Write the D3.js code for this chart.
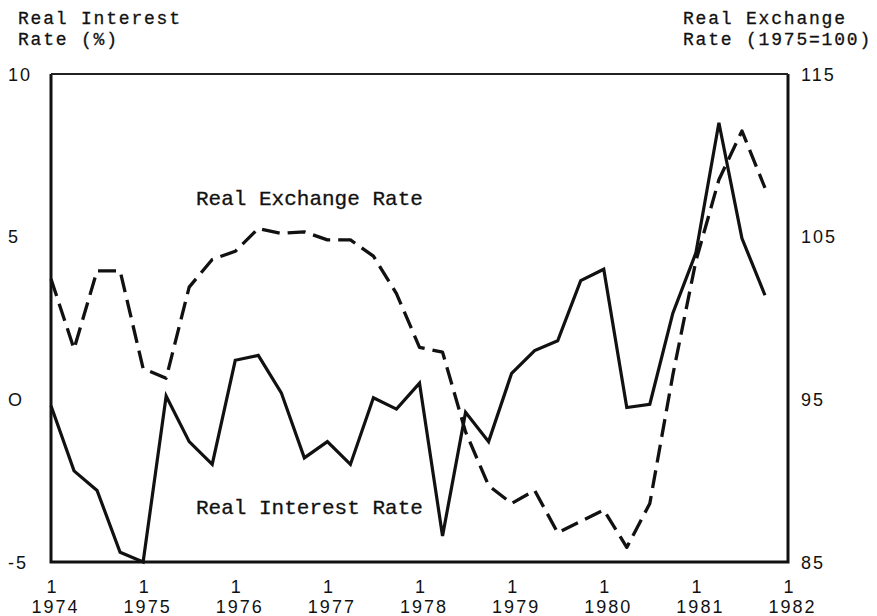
<!DOCTYPE html>
<html>
<head>
<meta charset="utf-8">
<script src="https://cdn.jsdelivr.net/npm/d3@7"></script>
<style>
  body { margin: 0; background: #fff; }
  .mono { font-family: "Liberation Mono", "Courier New", monospace; font-size: 21px; fill: #111; stroke: #111; stroke-width: 0.3; }
  .title { font-size: 18px; letter-spacing: 1.8px; }
  .tick text { font-family: "Liberation Sans", Arial, sans-serif; font-size: 18px; fill: #111; letter-spacing: 2px; }
</style>
</head>
<body>
<div id="chart"></div>
<script>
// DATA //

// quarterly observations, 1974 Q1 .. 1981 Q4
const years = [1974, 1975, 1976, 1977, 1978, 1979, 1980, 1981];
const quarters = [];
years.forEach( y => { for ( let q = 0; q < 4; q++ ) quarters.push( y + q / 4 ); });

const interestRate = [
	-0.2, -2.2, -2.8, -4.7, -5.0, 0.1, -1.3, -2.0,
	1.2, 1.35, 0.2, -1.8, -1.3, -2.0, 0.05, -0.3,
	0.5, -4.2, -0.4, -1.3, 0.8, 1.5, 1.8, 3.65,
	4.0, -0.25, -0.15, 2.65, 4.5, 8.5, 4.95, 3.2
];

const exchangeRate = [
	102.4, 98.1, 102.9, 102.9, 96.9, 96.3, 101.9, 103.6,
	104.1, 105.5, 105.2, 105.3, 104.8, 104.8, 103.8, 101.5,
	98.2, 97.9, 93.0, 89.7, 88.6, 89.4, 86.8, 87.5,
	88.2, 85.9, 88.6, 96.5, 103.5, 108.5, 111.5, 108.0
];

const xTicks = [1974, 1975, 1976, 1977, 1978, 1979, 1980, 1981, 1982];
const leftTicks = [-5, 0, 5, 10];
const rightTicks = [85, 95, 105, 115];

// SETUP //

const width = 877, height = 616;
const m = { left: 51, right: 89, top: 74, bottom: 54 };

const svg = d3.select( '#chart' ).append( 'svg' )
	.attr( 'width', width )
	.attr( 'height', height );

const x = d3.scaleLinear()
	.domain([ 1974, 1982 ])
	.range([ m.left, width - m.right ]);

const yL = d3.scaleLinear()
	.domain([ -5, 10 ])
	.range([ height - m.bottom, m.top ]);

const yR = d3.scaleLinear()
	.domain([ 85, 115 ])
	.range([ height - m.bottom, m.top ]);

// AXES //

const gx = svg.append( 'g' )
	.attr( 'transform', 'translate(0,' + ( height - m.bottom ) + ')' )
	.call( d3.axisBottom( x ).tickValues( xTicks ).tickSize( 0 ).tickFormat( '' ) );
gx.select( '.domain' ).remove();
gx.selectAll( '.tick text' ).each( function ( d ) {
	const t = d3.select( this ).attr( 'y', 0 ).attr( 'dy', null );
	t.append( 'tspan' ).attr( 'x', 1 ).attr( 'y', 31 ).text( '1' );
	t.append( 'tspan' ).attr( 'x', 4 ).attr( 'y', 51 ).text( d );
});

const gl = svg.append( 'g' )
	.attr( 'transform', 'translate(8,0)' )
	.call( d3.axisLeft( yL ).tickValues( leftTicks ).tickSize( 0 ).tickPadding( 0 )
		.tickFormat( d => d === 0 ? 'O' : d ) );
gl.select( '.domain' ).remove();
gl.selectAll( '.tick text' ).attr( 'text-anchor', 'start' ).attr( 'dy', '0.35em' );

const gr = svg.append( 'g' )
	.attr( 'transform', 'translate(' + ( width - m.right + 13 ) + ',0)' )
	.call( d3.axisRight( yR ).tickValues( rightTicks ).tickSize( 0 ).tickPadding( 0 ) );
gr.select( '.domain' ).remove();
gr.selectAll( '.tick text' ).attr( 'dy', '0.35em' );

// frame: heavy left, bottom and right edges, lighter top
const x0 = x.range()[0], x1 = x.range()[1];
const y0 = yL.range()[1], y1 = yL.range()[0];
svg.append( 'path' )
	.attr( 'd', `M${x0},${y0}V${y1}H${x1}V${y0}` )
	.attr( 'fill', 'none' )
	.attr( 'stroke', '#111' )
	.attr( 'stroke-width', 3 );
svg.append( 'line' )
	.attr( 'x1', x0 ).attr( 'x2', x1 )
	.attr( 'y1', y0 ).attr( 'y2', y0 )
	.attr( 'stroke', '#222' )
	.attr( 'stroke-width', 2 );

// SERIES //

const lineL = d3.line()
	.x( ( d, i ) => x( quarters[ i ] ) )
	.y( d => yL( d ) );

const lineR = d3.line()
	.x( ( d, i ) => x( quarters[ i ] ) )
	.y( d => yR( d ) );

svg.append( 'path' )
	.datum( exchangeRate )
	.attr( 'd', lineR )
	.attr( 'fill', 'none' )
	.attr( 'stroke', '#111' )
	.attr( 'stroke-width', 3.3 )
	.attr( 'stroke-dasharray', '18,8' )
	.attr( 'stroke-linejoin', 'round' );

svg.append( 'path' )
	.datum( interestRate )
	.attr( 'd', lineL )
	.attr( 'fill', 'none' )
	.attr( 'stroke', '#111' )
	.attr( 'stroke-width', 3.2 )
	.attr( 'stroke-linejoin', 'miter' );

// LABELS //

svg.append( 'text' ).attr( 'class', 'mono title' ).attr( 'x', 18 ).attr( 'y', 24 ).text( 'Real Interest' );
svg.append( 'text' ).attr( 'class', 'mono title' ).attr( 'x', 18 ).attr( 'y', 45 ).text( 'Rate (%)' );
svg.append( 'text' ).attr( 'class', 'mono title' ).attr( 'x', 683 ).attr( 'y', 24 ).text( 'Real Exchange' );
svg.append( 'text' ).attr( 'class', 'mono title' ).attr( 'x', 683 ).attr( 'y', 45 ).text( 'Rate (1975=100)' );

svg.append( 'text' ).attr( 'class', 'mono' ).attr( 'x', 196 ).attr( 'y', 205 ).text( 'Real Exchange Rate' );
svg.append( 'text' ).attr( 'class', 'mono' ).attr( 'x', 196 ).attr( 'y', 514 ).text( 'Real Interest Rate' );
</script>
</body>
</html>
